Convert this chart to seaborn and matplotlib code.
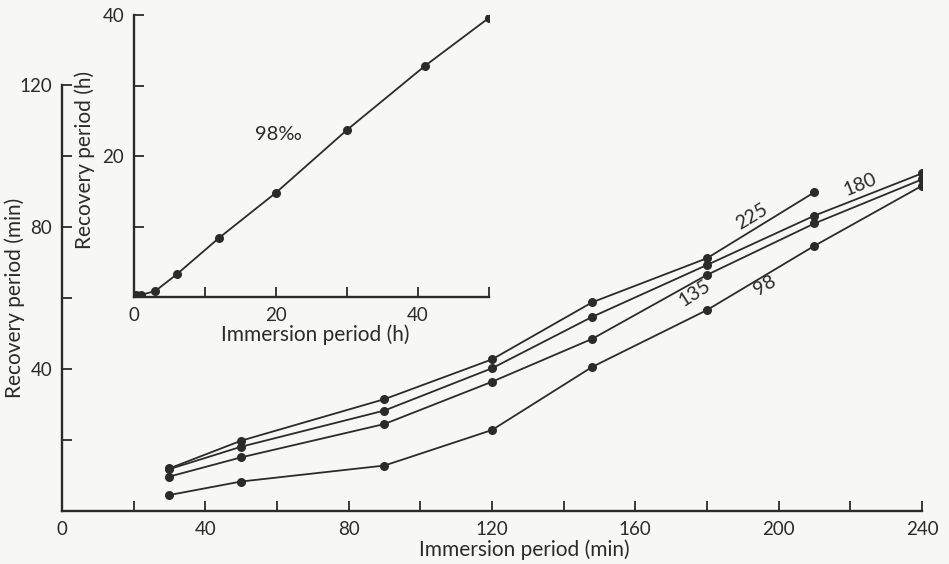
import pandas as pd
import seaborn as sns
import matplotlib
matplotlib.use("Agg")
import matplotlib.pyplot as plt

# main panel: recovery period vs immersion period (min), four salinities (per mille)
immersion_min = [30, 50, 90, 120, 148, 180, 210, 240]
rec_225 = [12.0, 19.8, 31.5, 42.7, 58.8, 71.2, 89.8]
rec_180 = [11.8, 18.1, 28.3, 40.2, 54.7, 69.3, 83.2, 95.1]
rec_135 = [9.7, 15.1, 24.5, 36.4, 48.5, 66.5, 81.0, 93.4]
rec_98 = [4.5, 8.3, 12.8, 22.8, 40.6, 56.6, 74.7, 91.6]
salinities = ["225", "180", "135", "98"]

# inset: 98 per mille, long immersions (h)
immersion_h = [0.25, 1, 3, 6, 12, 20, 30, 41, 50]
recovery_h = [0.25, 0.3, 0.85, 3.2, 8.4, 14.8, 23.7, 32.8, 39.6]

ink = "#2b2b2b"
bg = "#f7f7f5"

sns.set_style("ticks")
plt.rcParams["font.family"] = ["Lato", "DejaVu Sans"]
plt.rcParams["text.color"] = ink
plt.rcParams["axes.labelcolor"] = ink
plt.rcParams["xtick.color"] = ink
plt.rcParams["ytick.color"] = ink

rows = []
for sal, vals in zip(salinities, [rec_225, rec_180, rec_135, rec_98]):
    for x, y in zip(immersion_min, vals):
        rows.append({"immersion": x, "recovery": y, "salinity": sal})
df = pd.DataFrame(rows)
inset_df = pd.DataFrame({"immersion": immersion_h, "recovery": recovery_h})

fig = plt.figure(figsize=(9.49, 5.64), dpi=100, facecolor=bg)
ax = fig.add_axes([0.0653, 0.0940, 0.9062, 0.7553], facecolor="none")

sns.lineplot(data=df, x="immersion", y="recovery", hue="salinity",
             palette={s: ink for s in salinities}, marker="o", markersize=6.5,
             markeredgewidth=0, linewidth=1.3, legend=False, ax=ax)

ax.set_xlim(0, 240)
ax.set_ylim(0, 120)
ax.set_xticks(range(0, 241, 20))
ax.set_xticklabels([str(v) if v % 40 == 0 else "" for v in range(0, 241, 20)])
ax.set_yticks(range(0, 121, 20))
ax.set_yticklabels([str(v) if v % 40 == 0 and v > 0 else "" for v in range(0, 121, 20)])
ax.tick_params(direction="in", length=7, width=1.3, labelsize=13.5, pad=7)
sns.despine(ax=ax)
for s in ["left", "bottom"]:
    ax.spines[s].set_linewidth(1.7)
    ax.spines[s].set_color(ink)
ax.set_xlabel("Immersion period (min)", fontsize=15)
ax.set_ylabel("Recovery period (min)", fontsize=15)
ax.xaxis.set_label_coords(0.538, -0.066)
ax.yaxis.set_label_coords(-0.043, 0.5)

curve_labels = [("225", 192.5, 82.8, 31), ("180", 222.7, 92.0, 22),
                ("135", 176.7, 61.3, 33), ("98", 196.2, 63.5, 31)]
for txt, lx, ly, rot in curve_labels:
    ax.text(lx, ly, txt, rotation=rot, rotation_mode="anchor",
            ha="center", va="center", fontsize=14)

# inset
ins = fig.add_axes([0.1412, 0.4734, 0.3741, 0.5], facecolor="none")
sns.lineplot(data=inset_df, x="immersion", y="recovery", color=ink,
             marker="o", markersize=6.5, markeredgewidth=0, linewidth=1.3, ax=ins)
ins.set_xlim(0, 50)
ins.set_ylim(0, 40)
ins.set_xticks(range(0, 51, 10))
ins.set_xticklabels(["0", "", "20", "", "40", ""])
ins.set_yticks(range(0, 41, 10))
ins.set_yticklabels(["", "", "20", "", "40"])
ins.tick_params(direction="in", length=7, width=1.3, labelsize=13.5, pad=7)
sns.despine(ax=ins)
for s in ["left", "bottom"]:
    ins.spines[s].set_linewidth(1.7)
    ins.spines[s].set_color(ink)
ins.set_xlabel("Immersion period (h)", fontsize=15)
ins.set_ylabel("Recovery period (h)", fontsize=15)
ins.xaxis.set_label_coords(0.51, -0.098)
ins.yaxis.set_label_coords(-0.11, 0.485)
ins.text(20.4, 23.1, "98\u2030", ha="center", va="center", fontsize=14.5)

fig.savefig("out.png", dpi=100, facecolor=bg)
